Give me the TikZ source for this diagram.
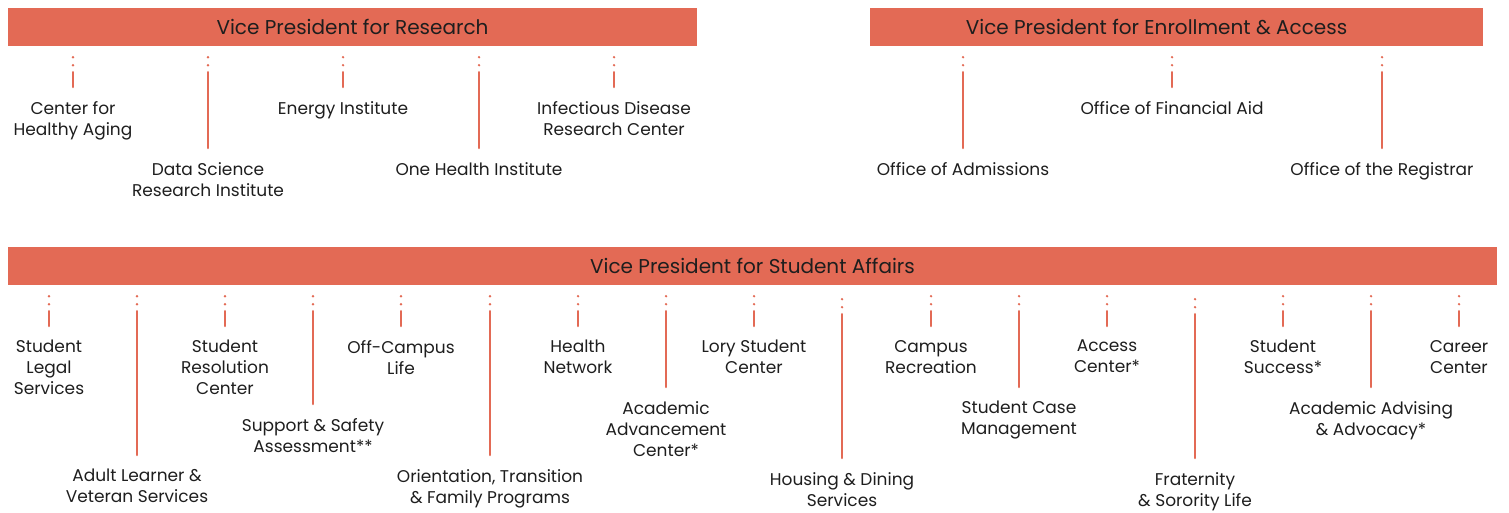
\documentclass[tikz,border=0pt]{standalone}
\usepackage{fontspec}
\setmainfont{Poppins}
\usepackage{xcolor}
\usepackage{tikz}
\definecolor{vpred}{HTML}{E36A55}
\definecolor{ink}{HTML}{1E1E1E}
\tikzset{
	vpbar/.style={
			fill=vpred, text=ink, inner sep=0pt, minimum height=38pt,
			font=\fontsize{20}{22}\selectfont
		},
	unit/.style={
			anchor=north, align=center, inner sep=0pt, text=ink,
			font=\fontsize{17}{21}\selectfont,
			execute at begin node={\vphantom{dl}}
		},
	link/.style={
			draw=vpred, line width=2.6pt, line cap=round,
			dash pattern=on 0pt off 8pt on 0pt off 7pt on 600pt,
			shorten <=11pt, shorten >=14pt
		}
}

\begin{document}
\begin{tikzpicture}[x=1pt, y=-1pt]
		\useasboundingbox (0, 0) rectangle (1509, 512);

		\node[vpbar, minimum width=689pt]	(vpr) at (352.5, 27) {Vice President for Research};
		\node[vpbar, minimum width=613pt]	(vpea) at (1176.5, 27) {Vice President for Enrollment \& Access\hspace*{40pt}};
		\node[vpbar, minimum width=1489pt]	(vpsa) at (752.5, 266) {Vice President for Student Affairs};

		% research units
		\foreach \nm/\x/\y/\txt in {cha/73/101/{Center for\\Healthy Aging},
				dsri/208/162/{Data Science\\Research Institute},
				ei/343/101/{Energy Institute},
				ohi/479/162/{One Health Institute},
				idrc/614/101/{Infectious Disease\\Research Center}} {
			\node[unit]	(\nm) at (\x, \y) {\txt};
			\draw[link]	(vpr.south -| \nm.north) to (\nm.north);
		}

		% enrollment units
		\foreach \nm/\x/\y/\txt in {oa/963/162/{Office of Admissions},
				ofa/1172/101/{Office of Financial Aid},
				ootr/1382/162/{Office of the Registrar}} {
			\node[unit]	(\nm) at (\x, \y) {\txt};
			\draw[link]	(vpea.south -| \nm.north) to (\nm.north);
		}

		% student affairs units
		\foreach \nm/\x/\y/\s/\txt in {sls/49/340/11/{Student\\Legal\\Services},
				alvs/137/469/11/{Adult Learner \&\\Veteran Services},
				src/225/340/11/{Student\\Resolution\\Center},
				ssa/313/418/11/{Support \& Safety\\Assessment**},
				ocl/401/340/11/{Off-Campus\\Life},
				otfp/490/469/11/{Orientation, Transition\\\& Family Programs},
				hn/578/340/11/{Health\\Network},
				aac/666/401/11/{Academic\\Advancement\\Center*},
				lsc/754/340/11/{Lory Student\\Center},
				hds/842/472/14/{Housing \& Dining\\Services},
				cr/931/340/11/{Campus\\Recreation},
				scm/1019/401/11/{Student Case\\Management},
				ac/1107/340/11/{Access\\Center*},
				fsl/1195/472/14/{Fraternity\\\& Sorority Life},
				ss/1283/340/11/{Student\\Success*},
				aaa/1371/401/11/{Academic Advising\\\& Advocacy*},
				cc/1459/340/11/{Career\\Center}} {
			\node[unit]	(\nm) at (\x, \y) {\txt};
			\draw[link, shorten <=\s pt]	(vpsa.south -| \nm.north) to (\nm.north);
		}
	\end{tikzpicture}
\end{document}
